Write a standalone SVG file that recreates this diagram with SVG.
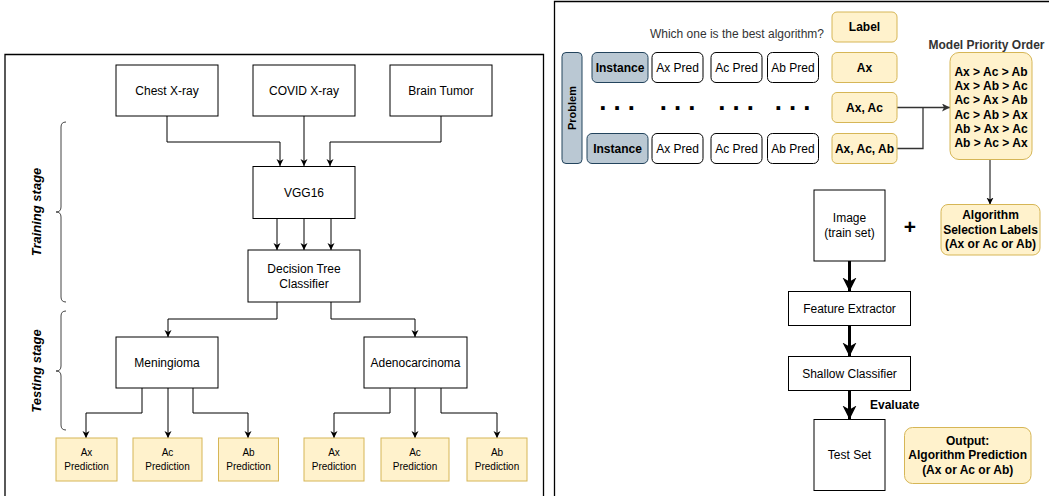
<svg xmlns="http://www.w3.org/2000/svg" width="1049" height="496" viewBox="0 0 1049 496">
<defs>
<marker id="ah" markerUnits="userSpaceOnUse" markerWidth="8" markerHeight="8" refX="7" refY="3.5" orient="auto">
<path d="M0,0 L7,3.5 L0,7 L2,3.5 Z" fill="#000"/>
</marker>
<marker id="ahg" markerUnits="userSpaceOnUse" markerWidth="9" markerHeight="9" refX="8" refY="4" orient="auto">
<path d="M0,0 L8,4 L0,8 L2,4 Z" fill="#333"/>
</marker>
<marker id="aht" markerUnits="userSpaceOnUse" markerWidth="15" markerHeight="15" refX="14" refY="7" orient="auto">
<path d="M0,0 L14,7 L0,14 L4,7 Z" fill="#000"/>
</marker>
<style>
text{font-family:"Liberation Sans",Arial,sans-serif;fill:#000;}
.t12{font-size:12px;text-anchor:middle;dominant-baseline:central;}
.t10{font-size:10px;text-anchor:middle;dominant-baseline:central;}
.b12{font-size:12px;font-weight:bold;text-anchor:middle;dominant-baseline:central;}
.stage{font-size:13px;font-weight:bold;font-style:italic;text-anchor:middle;dominant-baseline:central;}
.box{fill:#fff;stroke:#000;stroke-width:1;}
.ybox{fill:#fff2cc;stroke:#d6b656;stroke-width:1;}
.gbox{fill:#bac8d3;stroke:#23445d;stroke-width:1;}
.conn{fill:none;stroke:#000;stroke-width:1;}
.thick{fill:none;stroke:#000;stroke-width:3;}
.brace{fill:none;stroke:#444;stroke-width:1;}
.frame{fill:none;stroke:#000;stroke-width:1.3;}
.dots{font-size:25.7px;font-weight:bold;text-anchor:middle;}
</style>
</defs>

<g id="frames">
<path class="frame" d="M5,496 V54.5 H543.5 V496"/>
<path class="frame" d="M554.5,496 V1.5 H1049"/>
</g>

<g id="braces">
<path class="brace" d="M66,122 Q61,122 61,127 V207 Q61,212 56,212 Q61,212 61,217 V297 Q61,302 66,302"/>
<path class="brace" d="M66,311 Q61,311 61,316 V366 Q61,371 56,371 Q61,371 61,376 V425 Q61,430 66,430"/>
<text class="stage" transform="translate(36,212) rotate(-90)">Training stage</text>
<text class="stage" transform="translate(36,371) rotate(-90)">Testing stage</text>
</g>

<g id="connectors">
<path class="conn" marker-end="url(#ah)" d="M167,116 V142 H280 V166"/>
<path class="conn" marker-end="url(#ah)" d="M304,116 V166"/>
<path class="conn" marker-end="url(#ah)" d="M441,116 V142 H330 V166"/>
<path class="conn" marker-end="url(#ah)" d="M277,218 V250"/>
<path class="conn" marker-end="url(#ah)" d="M304,218 V250"/>
<path class="conn" marker-end="url(#ah)" d="M331,218 V250"/>
<path class="conn" marker-end="url(#ah)" d="M277,302 V319 H168 V337"/>
<path class="conn" marker-end="url(#ah)" d="M331,302 V319 H415 V337"/>
<path class="conn" marker-end="url(#ah)" d="M142,388 V413 H86 V438"/>
<path class="conn" marker-end="url(#ah)" d="M168,388 V438"/>
<path class="conn" marker-end="url(#ah)" d="M193,388 V413 H248 V438"/>
<path class="conn" marker-end="url(#ah)" d="M390,388 V413 H334 V438"/>
<path class="conn" marker-end="url(#ah)" d="M415,388 V438"/>
<path class="conn" marker-end="url(#ah)" d="M441,388 V413 H497 V438"/>
<path class="conn" style="stroke:#333;stroke-width:1.3" marker-end="url(#ahg)" d="M897,107.5 H950"/>
<path class="conn" style="stroke:#333;stroke-width:1.3" d="M897,148.5 H923 V107.5"/>
<path class="conn" marker-end="url(#ah)" d="M990,159.5 V204.5"/>
<path class="thick" marker-end="url(#aht)" d="M849.5,261 V291.5"/>
<path class="thick" marker-end="url(#aht)" d="M849.5,325.5 V356.5"/>
<path class="thick" marker-end="url(#aht)" d="M849.5,390.5 V419.5"/>
</g>

<g id="chest"><rect class="box" x="116" y="65" width="102" height="51"/><text class="t12" x="167" y="90.5">Chest X-ray</text></g>
<g id="covid"><rect class="box" x="253" y="65" width="102" height="51"/><text class="t12" x="304" y="90.5">COVID X-ray</text></g>
<g id="brain"><rect class="box" x="390" y="65" width="102" height="51"/><text class="t12" x="441" y="90.5">Brain Tumor</text></g>
<g id="vgg"><rect class="box" x="253" y="166.5" width="102" height="52"/><text class="t12" x="304" y="192.5">VGG16</text></g>
<g id="dt"><rect class="box" x="248" y="250" width="112" height="52"/><text class="t12" x="304" y="269">Decision Tree</text><text class="t12" x="304" y="284">Classifier</text></g>
<g id="meningioma"><rect class="box" x="116" y="337" width="102" height="51"/><text class="t12" x="167" y="362.5">Meningioma</text></g>
<g id="adeno"><rect class="box" x="364" y="337" width="103" height="51"/><text class="t12" x="415.5" y="362.5">Adenocarcinoma</text></g>

<g id="m-ax"><rect class="ybox" x="56" y="438" width="61" height="43"/><text class="t10" x="86.5" y="452.5">Ax</text><text class="t10" x="86.5" y="466">Prediction</text></g>
<g id="m-ac"><rect class="ybox" x="133" y="438" width="69" height="43"/><text class="t10" x="167.5" y="452.5">Ac</text><text class="t10" x="167.5" y="466">Prediction</text></g>
<g id="m-ab"><rect class="ybox" x="218.5" y="438" width="60" height="43"/><text class="t10" x="248.5" y="452.5">Ab</text><text class="t10" x="248.5" y="466">Prediction</text></g>
<g id="a-ax"><rect class="ybox" x="304" y="438" width="60" height="43"/><text class="t10" x="334" y="452.5">Ax</text><text class="t10" x="334" y="466">Prediction</text></g>
<g id="a-ac"><rect class="ybox" x="381" y="438" width="68" height="43"/><text class="t10" x="415" y="452.5">Ac</text><text class="t10" x="415" y="466">Prediction</text></g>
<g id="a-ab"><rect class="ybox" x="467" y="438" width="60" height="43"/><text class="t10" x="497" y="452.5">Ab</text><text class="t10" x="497" y="466">Prediction</text></g>

<g id="question"><text style="font-size:12px;fill:#333;text-anchor:end;dominant-baseline:central" x="824" y="34">Which one is the best algorithm?</text></g>
<g id="label"><rect class="ybox" x="832" y="12" width="65" height="30" rx="5"/><text class="b12" x="864.5" y="27">Label</text></g>
<g id="problem"><rect class="gbox" x="562" y="52.5" width="20" height="111" rx="4"/><text style="font-size:11px;font-weight:bold;text-anchor:middle;dominant-baseline:central" transform="translate(572,108) rotate(-90)">Problem</text></g>
<g id="instance1"><rect class="gbox" x="592" y="52.5" width="56" height="30" rx="5"/><text class="b12" x="620" y="67.5">Instance</text></g>
<g id="axpred1"><rect class="box" x="652" y="52.5" width="51" height="30" rx="5"/><text class="t12" x="677.5" y="67.5">Ax Pred</text></g>
<g id="acpred1"><rect class="box" x="711" y="52.5" width="51" height="30" rx="5"/><text class="t12" x="736.5" y="67.5">Ac Pred</text></g>
<g id="abpred1"><rect class="box" x="767.5" y="52.5" width="51" height="30" rx="5"/><text class="t12" x="793" y="67.5">Ab Pred</text></g>
<g id="lab-ax"><rect class="ybox" x="832" y="52.5" width="65" height="30" rx="5"/><text class="b12" x="864.5" y="67.5">Ax</text></g>
<g id="dots">
<text class="dots" x="617" y="110">. . .</text>
<text class="dots" x="677.5" y="110">. . .</text>
<text class="dots" x="736" y="110">. . .</text>
<text class="dots" x="792.5" y="110">. . .</text>
</g>
<g id="lab-axac"><rect class="ybox" x="832" y="92.5" width="65" height="30" rx="5"/><text class="b12" x="864.5" y="107.5">Ax, Ac</text></g>
<g id="instance2"><rect class="gbox" x="587" y="133.5" width="61" height="30" rx="5"/><text class="b12" x="617.5" y="148.5">Instance</text></g>
<g id="axpred2"><rect class="box" x="652" y="133.5" width="51" height="30" rx="5"/><text class="t12" x="677.5" y="148.5">Ax Pred</text></g>
<g id="acpred2"><rect class="box" x="711" y="133.5" width="51" height="30" rx="5"/><text class="t12" x="736.5" y="148.5">Ac Pred</text></g>
<g id="abpred2"><rect class="box" x="767.5" y="133.5" width="51" height="30" rx="5"/><text class="t12" x="793" y="148.5">Ab Pred</text></g>
<g id="lab-axacab"><rect class="ybox" x="832" y="133.5" width="65" height="30" rx="5"/><text class="b12" x="864.5" y="148.5">Ax, Ac, Ab</text></g>

<g id="priority">
<text class="b12" style="fill:#333" x="986.5" y="45">Model Priority Order</text>
<rect class="ybox" x="950" y="52.5" width="82" height="107" rx="9"/>
<text class="b12" x="991" y="71.7">Ax &gt; Ac &gt; Ab</text>
<text class="b12" x="991" y="86">Ax &gt; Ab &gt; Ac</text>
<text class="b12" x="991" y="100.3">Ac &gt; Ax &gt; Ab</text>
<text class="b12" x="991" y="114.7">Ac &gt; Ab &gt; Ax</text>
<text class="b12" x="991" y="129">Ab &gt; Ax &gt; Ac</text>
<text class="b12" x="991" y="143.3">Ab &gt; Ac &gt; Ax</text>
</g>
<g id="selection"><rect class="ybox" x="941" y="204.5" width="99" height="50.5" rx="7"/>
<text class="b12" x="990.5" y="215">Algorithm</text>
<text class="b12" x="990.5" y="229.5">Selection Labels</text>
<text class="b12" x="990.5" y="244">(Ax or Ac or Ab)</text></g>
<g id="image"><rect class="box" x="814" y="190" width="71" height="71"/><text class="t12" x="849.5" y="218">Image</text><text class="t12" x="849.5" y="233">(train set)</text></g>
<g id="plus"><text style="font-size:21px;font-weight:bold;text-anchor:middle;dominant-baseline:central" x="910" y="226">+</text></g>
<g id="fe"><rect class="box" x="788.5" y="291.5" width="122" height="34"/><text class="t12" x="849.5" y="308.5">Feature Extractor</text></g>
<g id="sc"><rect class="box" x="788.5" y="356.5" width="122" height="34"/><text class="t12" x="849.5" y="373.5">Shallow Classifier</text></g>
<g id="evaluate"><text style="font-size:12px;font-weight:bold;dominant-baseline:central" x="870" y="405">Evaluate</text></g>
<g id="testset"><rect class="box" x="814" y="419.5" width="71" height="71"/><text class="t12" x="849.5" y="455">Test Set</text></g>
<g id="output"><rect class="ybox" x="904.5" y="427.5" width="126.5" height="56" rx="8"/>
<text class="b12" x="967.7" y="440.7">Output:</text>
<text class="b12" x="967.7" y="455">Algorithm Prediction</text>
<text class="b12" x="967.7" y="469.7">(Ax or Ac or Ab)</text></g>
</svg>
